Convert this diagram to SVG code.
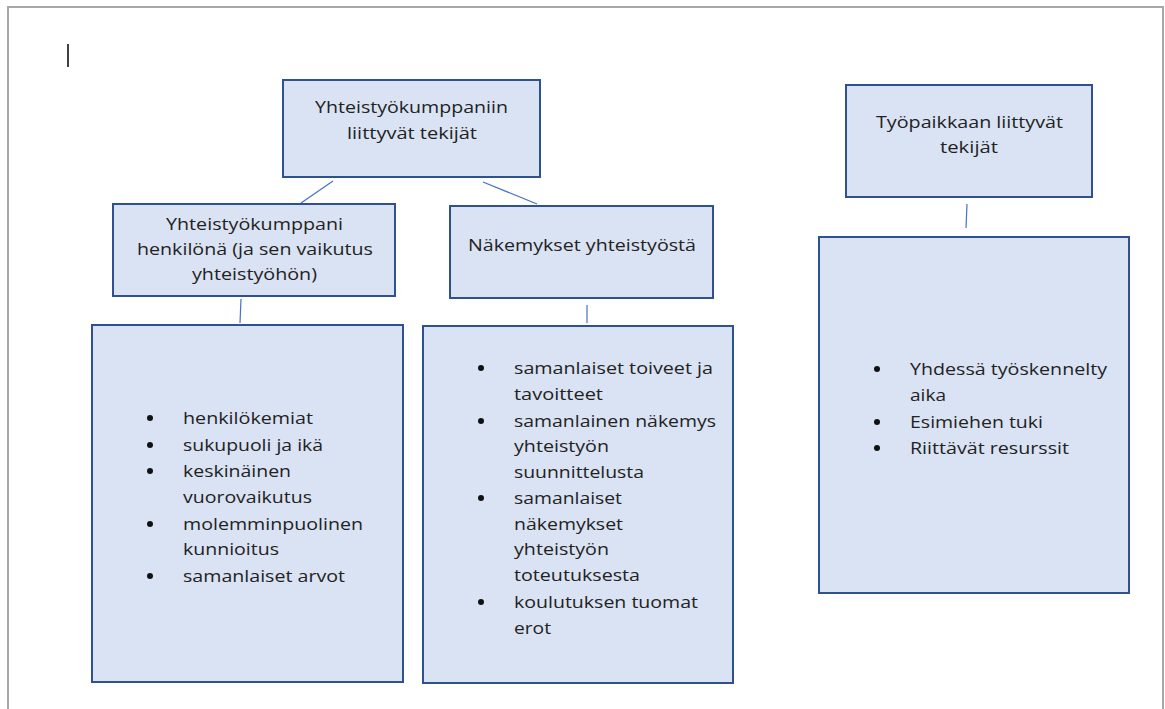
<svg xmlns="http://www.w3.org/2000/svg" width="1165" height="709" viewBox="0 0 1165 709">
<style>
.box{fill:#dae3f3;stroke:#2f528f;stroke-width:2}
.t{font-family:"Open Sans","Liberation Sans",sans-serif;font-size:15.5px;fill:#222}
.c{stroke:#4472c4;stroke-width:1.2;fill:none}
.b{fill:#111}
</style>
<rect x="0" y="0" width="1165" height="709" fill="#fff"/>
<path d="M8,712 V7 H1163 V712" fill="none" stroke="#a8a8a8" stroke-width="2"/>
<line x1="68" y1="44" x2="68" y2="67" stroke="#000" stroke-width="1.5"/>
<g id="connectors">
<line class="c" x1="333" y1="181" x2="301" y2="203"/>
<line class="c" x1="483" y1="182" x2="537" y2="204"/>
<line class="c" x1="967" y1="204" x2="966" y2="228"/>
<line class="c" x1="241" y1="299" x2="240" y2="323"/>
<line class="c" x1="587" y1="305" x2="587" y2="323"/>
</g>
<g id="root">
<rect class="box" x="283" y="80" width="257" height="97"/>
<text class="t" x="315" y="113" textLength="193" lengthAdjust="spacingAndGlyphs">Yhteistyökumppaniin</text>
<text class="t" x="347" y="139" textLength="130" lengthAdjust="spacingAndGlyphs">liittyvät tekijät</text>
</g>
<g id="partner">
<rect class="box" x="113" y="204" width="282" height="92"/>
<text class="t" x="166" y="230" textLength="177" lengthAdjust="spacingAndGlyphs">Yhteistyökumppani</text>
<text class="t" x="137" y="255" textLength="236" lengthAdjust="spacingAndGlyphs">henkilönä (ja sen vaikutus</text>
<text class="t" x="192" y="280" textLength="125" lengthAdjust="spacingAndGlyphs">yhteistyöhön)</text>
</g>
<g id="views">
<rect class="box" x="450" y="206" width="263" height="92"/>
<text class="t" x="468" y="251" textLength="228" lengthAdjust="spacingAndGlyphs">Näkemykset yhteistyöstä</text>
</g>
<g id="workplace">
<rect class="box" x="846" y="85" width="246" height="112"/>
<text class="t" x="876" y="128" textLength="187" lengthAdjust="spacingAndGlyphs">Työpaikkaan liittyvät</text>
<text class="t" x="940" y="153" textLength="58" lengthAdjust="spacingAndGlyphs">tekijät</text>
</g>
<g id="partner-list">
<rect class="box" x="92" y="325" width="311" height="357"/>
<circle class="b" cx="150" cy="418" r="3"/>
<text class="t" x="183" y="424" textLength="130" lengthAdjust="spacingAndGlyphs">henkilökemiat</text>
<circle class="b" cx="150" cy="445" r="3"/>
<text class="t" x="183" y="451" textLength="140" lengthAdjust="spacingAndGlyphs">sukupuoli ja ikä</text>
<circle class="b" cx="150" cy="471" r="3"/>
<text class="t" x="183" y="477" textLength="108" lengthAdjust="spacingAndGlyphs">keskinäinen</text>
<text class="t" x="183" y="503" textLength="129" lengthAdjust="spacingAndGlyphs">vuorovaikutus</text>
<circle class="b" cx="150" cy="524" r="3"/>
<text class="t" x="183" y="530" textLength="180" lengthAdjust="spacingAndGlyphs">molemminpuolinen</text>
<text class="t" x="183" y="555" textLength="96" lengthAdjust="spacingAndGlyphs">kunnioitus</text>
<circle class="b" cx="150" cy="576" r="3"/>
<text class="t" x="183" y="582" textLength="162" lengthAdjust="spacingAndGlyphs">samanlaiset arvot</text>
</g>
<g id="views-list">
<rect class="box" x="423" y="326" width="310" height="357"/>
<circle class="b" cx="481" cy="368" r="3"/>
<text class="t" x="514" y="374" textLength="199" lengthAdjust="spacingAndGlyphs">samanlaiset toiveet ja</text>
<text class="t" x="514" y="400" textLength="89" lengthAdjust="spacingAndGlyphs">tavoitteet</text>
<circle class="b" cx="481" cy="421" r="3"/>
<text class="t" x="514" y="427" textLength="202" lengthAdjust="spacingAndGlyphs">samanlainen näkemys</text>
<text class="t" x="514" y="452" textLength="95" lengthAdjust="spacingAndGlyphs">yhteistyön</text>
<text class="t" x="514" y="478" textLength="130" lengthAdjust="spacingAndGlyphs">suunnittelusta</text>
<circle class="b" cx="481" cy="498" r="3"/>
<text class="t" x="514" y="504" textLength="108" lengthAdjust="spacingAndGlyphs">samanlaiset</text>
<text class="t" x="514" y="530" textLength="109" lengthAdjust="spacingAndGlyphs">näkemykset</text>
<text class="t" x="514" y="555" textLength="95" lengthAdjust="spacingAndGlyphs">yhteistyön</text>
<text class="t" x="514" y="581" textLength="126" lengthAdjust="spacingAndGlyphs">toteutuksesta</text>
<circle class="b" cx="481" cy="602" r="3"/>
<text class="t" x="514" y="608" textLength="184" lengthAdjust="spacingAndGlyphs">koulutuksen tuomat</text>
<text class="t" x="514" y="634" textLength="37" lengthAdjust="spacingAndGlyphs">erot</text>
</g>
<g id="workplace-list">
<rect class="box" x="819" y="237" width="310" height="356"/>
<circle class="b" cx="877" cy="369" r="3"/>
<text class="t" x="910" y="375" textLength="197" lengthAdjust="spacingAndGlyphs">Yhdessä työskennelty</text>
<text class="t" x="910" y="401" textLength="36" lengthAdjust="spacingAndGlyphs">aika</text>
<circle class="b" cx="877" cy="422" r="3"/>
<text class="t" x="910" y="428" textLength="133" lengthAdjust="spacingAndGlyphs">Esimiehen tuki</text>
<circle class="b" cx="877" cy="448" r="3"/>
<text class="t" x="910" y="454" textLength="159" lengthAdjust="spacingAndGlyphs">Riittävät resurssit</text>
</g>
</svg>
